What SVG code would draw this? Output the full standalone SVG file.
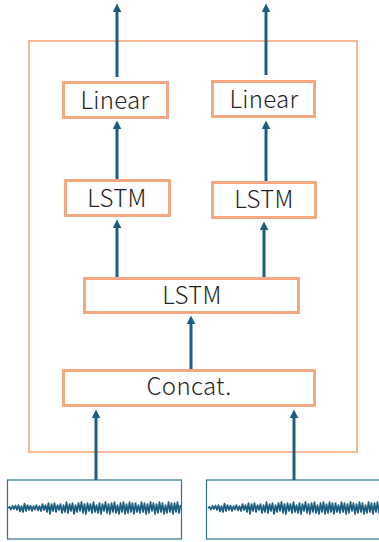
<svg xmlns="http://www.w3.org/2000/svg" width="379" height="542" viewBox="0 0 379 542">
  <style>
    .node { fill: #ffffff; stroke: #F4A882; stroke-width: 3; }
    .frame { fill: none; stroke: #F6B896; stroke-width: 2; }
    .label { font-family: "Noto Sans CJK JP", "Noto Sans", sans-serif; font-size: 24px; font-weight: 300; letter-spacing: 0.3px; fill: #262626; text-anchor: middle; }
    .edge { stroke: #1C5E80; stroke-width: 3; fill: none; marker-end: url(#head); }
    .sig { fill: #ffffff; stroke: #2F6F8F; stroke-width: 1.2; }
    .wave { fill: none; stroke: #1C5E80; stroke-width: 1.7; stroke-linejoin: round; }
  </style>
  <defs>
    <marker id="head" viewBox="0 0 10 10" markerUnits="userSpaceOnUse" markerWidth="9" markerHeight="9" refX="6" refY="5" orient="auto">
      <path d="M0,0 L10,5 L0,10 z" fill="#1C5E80"/>
    </marker>
    <!-- noisy trace, 1.5px per sample -->
    <path id="waveform" class="wave" d="M0,0 L1.5,-1 L3,1.5 L4.5,-2 L6,1 L7.5,-2.5 L9,2 L10.5,-3 L12,3.5 L13.5,-2 L15,4 L16.5,-4.5 L18,3 L19.5,-3 L21,2 L22.5,-2.5 L24,3 L25.5,-2 L27,1.5 L28.5,-3 L30,2.5 L31.5,-2 L33,3 L34.5,-4 L36,2 L37.5,-3 L39,4 L40.5,-5 L42,6 L43.5,-4 L45,3 L46.5,-5 L48,4 L49.5,-3 L51,2 L52.5,-4 L54,5 L55.5,-3 L57,4 L58.5,-6 L60,5 L61.5,-4 L63,3 L64.5,-5 L66,6 L67.5,-3 L69,4 L70.5,-5 L72,3 L73.5,-6 L75,5 L76.5,-4 L78,6 L79.5,-5 L81,3 L82.5,-4 L84,5 L85.5,-6 L87,4 L88.5,-3 L90,5 L91.5,-5 L93,6 L94.5,-4 L96,3 L97.5,-6 L99,5 L100.5,-4 L102,6 L103.5,-5 L105,4 L106.5,-6 L108,5 L109.5,-3 L111,6 L112.5,-5 L114,4 L115.5,-6 L117,6 L118.5,-4 L120,5 L121.5,-6 L123,4 L124.5,-5 L126,6 L127.5,-5 L129,4 L130.5,-3 L132,5 L133.5,-6 L135,4 L136.5,-5 L138,6 L139.5,-4 L141,5 L142.5,-6 L144,3 L145.5,-5 L147,6 L148.5,-4 L150,5 L151.5,-6 L153,4 L154.5,-5 L156,6 L157.5,-3 L159,5 L160.5,-6 L162,4 L163.5,-5 L165,6 L166.5,-5 L168,4 L169.5,-6 L171,5 L172.5,-3"/>
  </defs>

  <!-- enclosing model frame -->
  <rect id="model" class="frame" x="29" y="41" width="328" height="411"/>

  <!-- input signals -->
  <g id="signal-left">
    <rect class="sig" x="7.5" y="480" width="174" height="59"/>
    <use href="#waveform" transform="translate(8,508)"/>
  </g>
  <g id="signal-right">
    <rect class="sig" x="206.5" y="480" width="180" height="59"/>
    <use href="#waveform" transform="translate(208,508)"/>
  </g>

  <g id="concat">
    <rect class="node" x="63.5" y="370.5" width="251" height="35"/>
    <text class="label" x="189" y="395">Concat.</text>
  </g>
  <g id="lstm-shared">
    <rect class="node" x="84.5" y="278.5" width="214" height="34"/>
    <text class="label" x="192" y="304">LSTM</text>
  </g>
  <g id="lstm-left">
    <rect class="node" x="65.5" y="180.5" width="104" height="35"/>
    <text class="label" x="117" y="206.5">LSTM</text>
  </g>
  <g id="lstm-right">
    <rect class="node" x="212.5" y="182.5" width="103" height="35"/>
    <text class="label" x="264" y="208">LSTM</text>
  </g>
  <g id="linear-left">
    <rect class="node" x="63.5" y="82.5" width="104" height="35"/>
    <text class="label" x="115" y="108.5">Linear</text>
  </g>
  <g id="linear-right">
    <rect class="node" x="212.5" y="81.5" width="102" height="35"/>
    <text class="label" x="264" y="107.5">Linear</text>
  </g>

  <g id="connectors">
    <line class="edge" x1="117" y1="77" x2="117" y2="7"/>
    <line class="edge" x1="266" y1="75" x2="266" y2="7"/>
    <line class="edge" x1="117" y1="179" x2="117" y2="124"/>
    <line class="edge" x1="266" y1="181" x2="266" y2="124"/>
    <line class="edge" x1="117" y1="277" x2="117" y2="223"/>
    <line class="edge" x1="264" y1="277" x2="264" y2="225"/>
    <line class="edge" x1="191" y1="369" x2="191" y2="319"/>
    <line class="edge" x1="96" y1="480" x2="96" y2="413"/>
    <line class="edge" x1="294" y1="480" x2="294" y2="413"/>
  </g>
</svg>
